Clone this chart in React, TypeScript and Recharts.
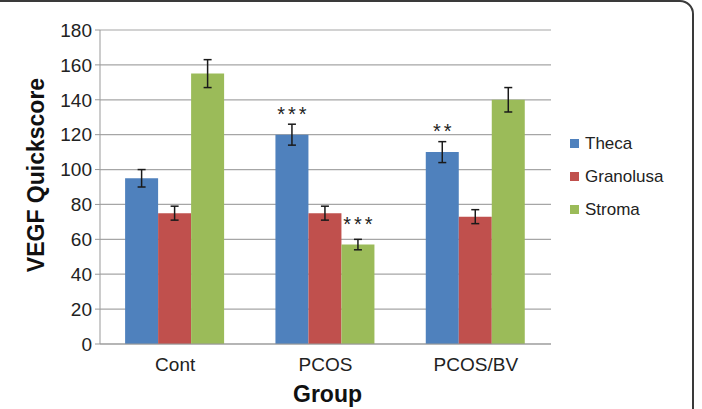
import {
  Bar,
  BarChart,
  CartesianGrid,
  ErrorBar,
  LabelList,
  Legend,
  XAxis,
  YAxis
} from "recharts";

const GROUPS = ["Cont", "PCOS", "PCOS/BV"];

const THECA = [95, 120, 110];
const THECA_ERR = [5, 6, 6];
const THECA_SIG = ["", "***", "**"];

const GRANOLUSA = [75, 75, 73];
const GRANOLUSA_ERR = [4, 4, 4];
const GRANOLUSA_SIG = ["", "", ""];

const STROMA = [155, 57, 140];
const STROMA_ERR = [8, 3, 7];
const STROMA_SIG = ["", "***", ""];

const Y_TICKS = [0, 20, 40, 60, 80, 100, 120, 140, 160, 180];

const SERIES = [
  { key: "theca", name: "Theca", color: "#4f81bd" },
  { key: "granolusa", name: "Granolusa", color: "#c0504d" },
  { key: "stroma", name: "Stroma", color: "#9bbb59" }
];

const FONT = '"Liberation Sans", Arial, Helvetica, sans-serif';

const data = GROUPS.map((group, i) => ({
  group,
  theca: THECA[i],
  thecaErr: THECA_ERR[i],
  thecaSig: THECA_SIG[i],
  granolusa: GRANOLUSA[i],
  granolusaErr: GRANOLUSA_ERR[i],
  granolusaSig: GRANOLUSA_SIG[i],
  stroma: STROMA[i],
  stromaErr: STROMA_ERR[i],
  stromaSig: STROMA_SIG[i]
}));

// significance stars sit a fixed distance above the bar top
function Stars(props: any) {
  const { x, y, width, value } = props;
  if (!value) return null;
  return (
    <text
      x={Number(x) + Number(width) / 2 + 1.5}
      y={Number(y) - 14}
      textAnchor="middle"
      fontSize={20}
      letterSpacing={3}
      fill="#222"
      fontFamily={FONT}
    >
      {value}
    </text>
  );
}

function YTitle(props: any) {
  const { viewBox } = props;
  const cx = viewBox.x + 36;
  const cy = viewBox.y + viewBox.height / 2 - 12;
  return (
    <text
      x={cx}
      y={cy}
      transform={`rotate(-90, ${cx}, ${cy})`}
      textAnchor="middle"
      dominantBaseline="central"
      fontSize={23}
      fontWeight="bold"
      fill="#111"
      fontFamily={FONT}
    >
      VEGF Quickscore
    </text>
  );
}

function XTitle(props: any) {
  const { viewBox } = props;
  return (
    <text
      x={viewBox.x + viewBox.width / 2 + 2}
      y={402}
      textAnchor="middle"
      fontSize={23}
      fontWeight="bold"
      fill="#111"
      fontFamily={FONT}
    >
      Group
    </text>
  );
}

function LegendList() {
  return (
    <div style={{ fontFamily: FONT, fontSize: 17, color: "#222" }}>
      {SERIES.map((s) => (
        <div
          key={s.key}
          style={{ display: "flex", alignItems: "center", height: 33 }}
        >
          <span
            style={{
              width: 9,
              height: 9,
              background: s.color,
              marginRight: 6,
              display: "inline-block"
            }}
          />
          {s.name}
        </div>
      ))}
    </div>
  );
}

export default function App() {
  return (
    <div
      style={{
        position: "fixed",
        left: 0,
        top: 0,
        width: 702,
        height: 409,
        overflow: "hidden",
        background: "#fff"
      }}
    >
      <div
        style={{
          position: "absolute",
          left: -30,
          top: 0,
          width: 724,
          height: 460,
          border: "2px solid #3a3a3a",
          borderRadius: 14,
          boxSizing: "border-box"
        }}
      />
      <div style={{ position: "absolute", left: 0, top: 0 }}>
        <BarChart
          width={702}
          height={409}
          data={data}
          margin={{ top: 30, right: 151, left: 0, bottom: 35 }}
          barCategoryGap="16.7%"
          barGap={0}
        >
          <CartesianGrid vertical={false} stroke="#a6a6a6" strokeWidth={1.2} />
          <XAxis
            dataKey="group"
            height={30}
            tickLine={false}
            tickSize={0}
            tickMargin={14}
            axisLine={{ stroke: "#999" }}
            tick={{ fontSize: 19, fill: "#222", fontFamily: FONT }}
            label={<XTitle />}
          />
          <YAxis
            width={100}
            domain={[0, 180]}
            ticks={Y_TICKS}
            interval={0}
            tickSize={5}
            tickMargin={3}
            axisLine={{ stroke: "#999" }}
            tickLine={{ stroke: "#999" }}
            tick={{ fontSize: 19, fill: "#222", fontFamily: FONT }}
            label={<YTitle />}
          />
          <Legend
            layout="vertical"
            align="center"
            verticalAlign="middle"
            wrapperStyle={{ left: 570, top: 127, width: 120 }}
            content={<LegendList />}
          />
          {SERIES.map((s) => (
            <Bar
              key={s.key}
              dataKey={s.key}
              name={s.name}
              fill={s.color}
              isAnimationActive={false}
            >
              <ErrorBar
                dataKey={`${s.key}Err`}
                direction="y"
                width={4}
                stroke="#1a1a1a"
                strokeWidth={1.5}
              />
              <LabelList dataKey={`${s.key}Sig`} content={<Stars />} />
            </Bar>
          ))}
        </BarChart>
      </div>
    </div>
  );
}
